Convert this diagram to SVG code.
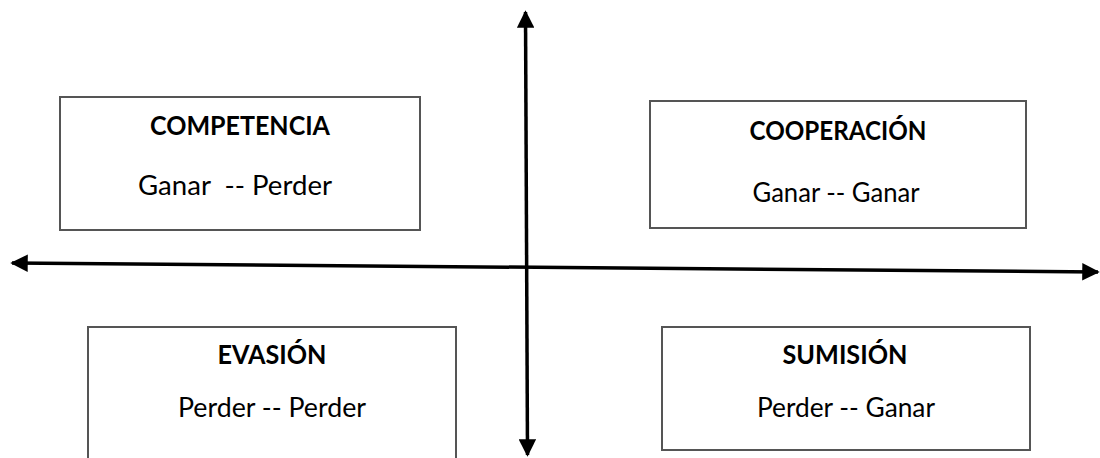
<svg xmlns="http://www.w3.org/2000/svg" width="1100" height="458" viewBox="0 0 1100 458">
  <style>
    .box { fill: #ffffff; stroke: #555555; stroke-width: 2; }
    .title { font-family: Lato, "Open Sans", sans-serif; font-weight: bold; font-size: 26px; fill: #000; text-anchor: middle; }
    .sub { font-family: Lato, "Open Sans", sans-serif; font-size: 26px; fill: #000; text-anchor: middle; white-space: pre; }
    .axis { stroke: #000; stroke-width: 3.5; fill: none; }
  </style>
  <defs>
    <marker id="head" viewBox="0 0 10 10" refX="9" refY="5" markerWidth="5" markerHeight="5" orient="auto-start-reverse" markerUnits="strokeWidth">
      <path d="M0,0 L10,5 L0,10 Z" fill="#000"/>
    </marker>
  </defs>

  <rect width="1100" height="458" fill="#ffffff"/>

  <g id="competencia">
    <rect class="box" x="60" y="97" width="360" height="133"/>
    <text class="title" x="240" y="135" textLength="180" lengthAdjust="spacingAndGlyphs">COMPETENCIA</text>
    <text class="sub" x="235" y="195" xml:space="preserve" textLength="194" lengthAdjust="spacingAndGlyphs">Ganar  -- Perder</text>
  </g>

  <g id="cooperacion">
    <rect class="box" x="650" y="101" width="376" height="127"/>
    <text class="title" x="838" y="140" textLength="177" lengthAdjust="spacingAndGlyphs">COOPERACIÓN</text>
    <text class="sub" x="836" y="202" textLength="167" lengthAdjust="spacingAndGlyphs">Ganar -- Ganar</text>
  </g>

  <g id="evasion">
    <rect class="box" x="88" y="327" width="368" height="140"/>
    <text class="title" x="272" y="364" textLength="109" lengthAdjust="spacingAndGlyphs">EVASIÓN</text>
    <text class="sub" x="272" y="417" textLength="188" lengthAdjust="spacingAndGlyphs">Perder -- Perder</text>
  </g>

  <g id="sumision">
    <rect class="box" x="662" y="327" width="368" height="123"/>
    <text class="title" x="845" y="364" textLength="125" lengthAdjust="spacingAndGlyphs">SUMISIÓN</text>
    <text class="sub" x="846" y="417" textLength="178" lengthAdjust="spacingAndGlyphs">Perder -- Ganar</text>
  </g>

  <g id="connectors">
    <line class="axis" x1="12" y1="263" x2="1098" y2="272" marker-start="url(#head)" marker-end="url(#head)"/>
    <line class="axis" x1="525.5" y1="12" x2="527.5" y2="455" marker-start="url(#head)" marker-end="url(#head)"/>
  </g>
</svg>
